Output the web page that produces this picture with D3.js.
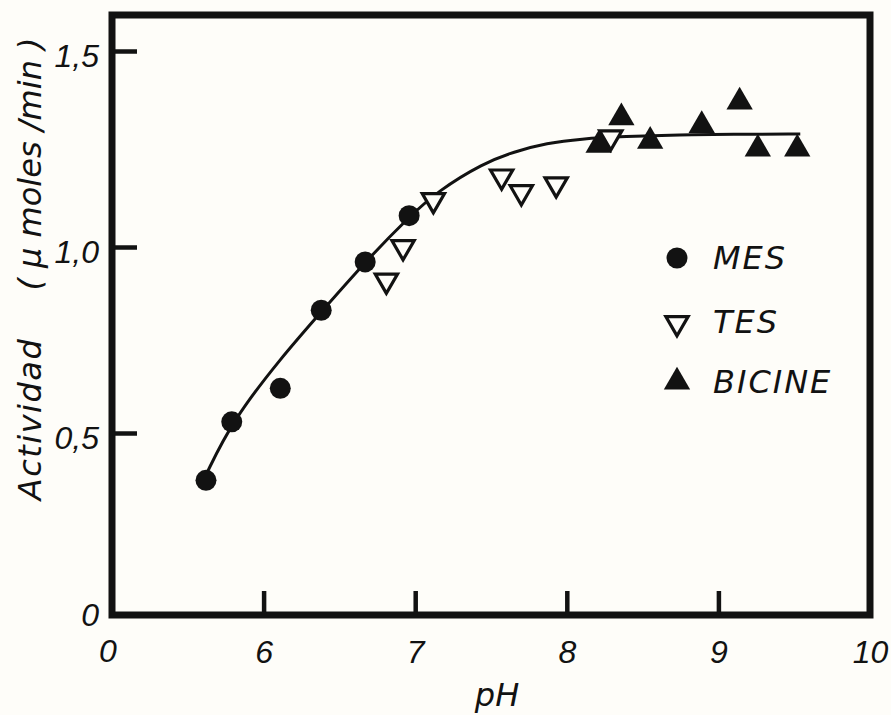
<!DOCTYPE html>
<html>
<head>
<meta charset="utf-8">
<script src="https://cdn.jsdelivr.net/npm/d3@7"></script>
<style>
  html, body { margin: 0; padding: 0; background: #fefdf9; }
  svg { display: block; }
</style>
</head>
<body>
<svg id="chart" width="891" height="715"></svg>
<script>
// Enzyme activity (µmol/min) against pH, measured in three buffers
const mesPH  = [5.62, 5.79, 6.11, 6.38, 6.67, 6.96];
const mesAct = [0.37, 0.53, 0.62, 0.83, 0.96, 1.08];

const tesPH  = [6.81, 6.92, 7.12, 7.57, 7.70, 7.93, 8.29];
const tesAct = [0.91, 1.00, 1.12, 1.18, 1.14, 1.16, 1.28];

const bicinePH  = [8.21, 8.36, 8.55, 8.89, 9.14, 9.26, 9.52];
const bicineAct = [1.26, 1.33, 1.27, 1.31, 1.37, 1.25, 1.25];

// Smooth curve drawn through all buffers
const curvePH  = [5.62, 5.79, 6.11, 6.39, 6.67, 6.96, 7.15, 7.45, 7.65, 7.87, 8.09, 8.38, 8.75, 9.08, 9.54];
const curveAct = [0.385, 0.53, 0.70, 0.83, 0.96, 1.077, 1.143, 1.214, 1.243, 1.265, 1.276, 1.282, 1.286, 1.288, 1.288];

const seriesNames = ["MES", "TES", "BICINE"];
const xTicks = [6, 7, 8, 9, 10];
const xOriginLabel = "0";          // the pH axis is broken: origin is labelled 0
const yTicks = [0, 0.5, 1.0, 1.5];
const xTitle = "pH";
const yTitleMain = "Actividad";
const yTitleUnit = "( µ moles /min )";

// ---------------------------------------------------------------
const ink = "#121212";
const paper = "#fefdf9";
const svg = d3.select("#chart");

const frame = { left: 112, right: 870, top: 15, bottom: 615 };

// pH scale starts at the axis break (pH 5 sits on the vertical axis)
const x = d3.scaleLinear().domain([5, 10]).range([frame.left, frame.right]);
// activity scale follows the ruled tick spacing of the graph
const y = d3.scaleLinear().domain(yTicks).range([615, 433, 247, 51]);

const zip = (xs, ys) => xs.map((v, i) => ({ ph: v, act: ys[i] }));
const mes = zip(mesPH, mesAct);
const tes = zip(tesPH, tesAct);
const bicine = zip(bicinePH, bicineAct);
const curve = zip(curvePH, curveAct);

const lettering = "'DejaVu Sans', 'Liberation Sans', sans-serif";
const digits = "'Liberation Sans', Arial, sans-serif";

// Frame (axes plus closing border)
svg.append("rect")
  .attr("x", frame.left).attr("y", frame.top)
  .attr("width", frame.right - frame.left)
  .attr("height", frame.bottom - frame.top)
  .attr("fill", "none")
  .attr("stroke", ink)
  .attr("stroke-width", 7);

// x axis: inward ticks, italic labels
const xAxis = d3.axisBottom(x)
  .tickValues(xTicks)
  .tickSize(-24)
  .tickPadding(0)
  .tickFormat(d3.format("d"));
const gx = svg.append("g")
  .attr("transform", `translate(0,${frame.bottom})`)
  .call(xAxis);
gx.select(".domain").remove();
gx.selectAll(".tick line").attr("stroke", ink).attr("stroke-width", 4.5)
  .filter(d => d === 10).remove();
gx.selectAll(".tick text")
  .attr("y", 48).attr("dy", 0)
  .attr("fill", ink)
  .style("font-family", digits)
  .style("font-style", "italic")
  .style("font-size", "32px");
svg.append("text")
  .attr("x", x.range()[0] - 4).attr("y", frame.bottom + 47)
  .attr("text-anchor", "middle")
  .attr("fill", ink)
  .style("font-family", digits).style("font-style", "italic").style("font-size", "32px")
  .text(xOriginLabel);

// y axis
const yAxis = d3.axisLeft(y)
  .tickValues(yTicks)
  .tickSize(-25)
  .tickPadding(0)
  .tickFormat(d => d === 0 ? "0" : d3.format(".1f")(d).replace(".", ","));
const gy = svg.append("g")
  .attr("transform", `translate(${frame.left},0)`)
  .call(yAxis);
gy.select(".domain").remove();
gy.selectAll(".tick line").attr("stroke", ink).attr("stroke-width", 4.5)
  .filter(d => d === 0).remove();
gy.selectAll(".tick text")
  .attr("x", -13).attr("dy", d => d === 0 ? 10 : 15)
  .attr("fill", ink)
  .style("font-family", digits)
  .style("font-style", "italic")
  .style("font-size", "32px");

// Axis titles
svg.append("text")
  .attr("x", 497).attr("y", 706)
  .attr("text-anchor", "middle")
  .attr("fill", ink)
  .style("font-family", lettering).style("font-style", "italic").style("font-size", "32px")
  .text(xTitle);

svg.append("text")
  .attr("transform", "translate(41,419) rotate(-90)")
  .attr("text-anchor", "middle")
  .attr("fill", ink)
  .style("font-family", lettering).style("font-style", "italic").style("font-size", "32px")
  .style("letter-spacing", "1.5px")
  .text(yTitleMain);

svg.append("text")
  .attr("transform", "translate(41,164) rotate(-90)")
  .attr("text-anchor", "middle")
  .attr("fill", ink)
  .style("font-family", lettering).style("font-style", "italic").style("font-size", "32px")
  .text(yTitleUnit);

// Fitted curve
const line = d3.line()
  .x(d => x(d.ph))
  .y(d => y(d.act))
  .curve(d3.curveBasis);
svg.append("path")
  .datum(curve)
  .attr("d", line)
  .attr("fill", "none")
  .attr("stroke", ink)
  .attr("stroke-width", 3);

// Marker shapes
const upTri = d3.symbol().type(d3.symbolTriangle).size(300);
const downTri = d3.symbol().type(d3.symbolTriangle).size(215);

svg.append("g").selectAll("circle")
  .data(mes).join("circle")
  .attr("cx", d => x(d.ph)).attr("cy", d => y(d.act))
  .attr("r", 10.5)
  .attr("fill", ink);

svg.append("g").selectAll("path")
  .data(tes).join("path")
  .attr("d", downTri)
  .attr("transform", d => `translate(${x(d.ph)},${y(d.act)}) rotate(180)`)
  .attr("fill", paper)
  .attr("stroke", ink)
  .attr("stroke-width", 3.2)
  .attr("stroke-linejoin", "miter");

svg.append("g").selectAll("path")
  .data(bicine).join("path")
  .attr("d", upTri)
  .attr("transform", d => `translate(${x(d.ph)},${y(d.act)})`)
  .attr("fill", ink);

// Legend
const legend = svg.append("g").attr("transform", "translate(677,258)");
const legendGap = 62;
seriesNames.forEach((name, i) => {
  const g = legend.append("g").attr("transform", `translate(0,${i * legendGap})`);
  if (i === 0) {
    g.append("circle").attr("r", 10.5).attr("fill", ink);
  } else if (i === 1) {
    g.append("path").attr("d", downTri).attr("transform", "translate(0,3) rotate(180)")
      .attr("fill", paper).attr("stroke", ink).attr("stroke-width", 3.2);
  } else {
    g.append("path").attr("d", upTri).attr("fill", ink);
  }
  g.append("text")
    .attr("x", 36).attr("y", 11 + (i === 1 ? 2 : 0))
    .attr("fill", ink)
    .style("font-family", lettering).style("font-style", "italic").style("font-size", "32px")
    .style("letter-spacing", "2px")
    .text(name);
});
</script>
</body>
</html>
